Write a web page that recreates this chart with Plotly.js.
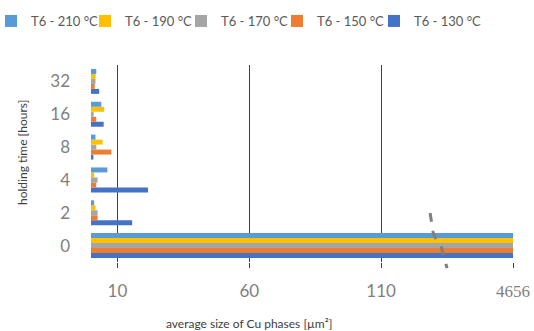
<!DOCTYPE html>
<html>
<head>
<meta charset="utf-8">
<script src="https://cdn.plot.ly/plotly-3.0.1.min.js"></script>
<style>html,body{margin:0;padding:0;background:#fff;}#chart{width:534px;height:331px;}</style>
</head>
<body>
<div id="chart"></div>
<script>
// holding time categories (hours), bottom to top
const holdingTimes = ['0', '2', '4', '8', '16', '32'];
// average size of Cu phases [µm²]
const t6_130 = [4656, 15.6, 21.6, 0.9, 4.8, 3.1];
const t6_150 = [4656, 2.5, 2.0, 7.7, 2.0, 1.4];
const t6_170 = [4656, 2.5, 2.5, 2.0, 1.0, 1.7];
const t6_190 = [4656, 1.7, 1.2, 4.4, 5.0, 1.7];
const t6_210 = [4656, 1.2, 6.2, 1.7, 3.9, 2.0];
const seriesNames = ['T6 - 130 °C', 'T6 - 150 °C', 'T6 - 170 °C', 'T6 - 190 °C', 'T6 - 210 °C'];
const seriesColors = ['#4472C4', '#ED7D31', '#A5A5A5', '#FFC000', '#5B9BD5'];
// broken x axis: visible range ends at 160, shown as 4656
const xTickVals = [10, 60, 110, 160];
const xTickText = ['10', '60', '110', '<span style="font-family:\'Liberation Serif\',serif">4656</span>'];

const seriesValues = [t6_130, t6_150, t6_170, t6_190, t6_210];
const legendIds = ['legend5', 'legend4', 'legend3', 'legend2', 'legend'];
const traces = seriesValues.map((vals, i) => ({
  type: 'bar',
  orientation: 'h',
  name: seriesNames[i],
  y: holdingTimes,
  x: vals,
  marker: {color: seriesColors[i]},
  legend: legendIds[i],
  hoverinfo: 'skip'
}));

const plotL = 91, plotW = 422, plotB = 262, plotH = 197;
function legendAt(px) {
  return {
    orientation: 'h',
    x: (px - plotL) / plotW, xref: 'paper', xanchor: 'left',
    y: (plotB - 21) / plotH, yref: 'paper', yanchor: 'middle',
    font: {size: 13, color: '#595959'},
    itemwidth: 30, bgcolor: 'rgba(0,0,0,0)', borderwidth: 0
  };
}

const layout = {
  width: 534, height: 331,
  margin: {l: plotL, r: 21, t: 65, b: 69, autoexpand: false},
  paper_bgcolor: '#fff', plot_bgcolor: '#fff',
  font: {family: 'Lato, "Open Sans", sans-serif', color: '#595959'},
  barmode: 'group',
  bargap: 0.24,
  bargroupgap: 0,
  showlegend: true,
  legend: legendAt(-9),
  legend2: legendAt(85),
  legend3: legendAt(181),
  legend4: legendAt(277),
  legend5: legendAt(374),
  xaxis: {
    range: [0, 160],
    tickvals: xTickVals, ticktext: xTickText,
    showgrid: true, gridcolor: '#404040', gridwidth: 1,
    zeroline: false, showline: false,
    ticks: 'outside', ticklen: 5, tickcolor: '#404040',
    tickfont: {size: 17, color: '#7F7F7F'},
    ticklabelstandoff: 9,
    fixedrange: true
  },
  yaxis: {
    type: 'category',
    categoryorder: 'array', categoryarray: holdingTimes,
    showgrid: false, zeroline: false, showline: false,
    ticks: '',
    tickfont: {size: 17, color: '#7F7F7F'},
    ticklabelstandoff: 20,
    fixedrange: true
  },
  annotations: [
    {text: 'average size of Cu phases [µm²]', xref: 'paper', yref: 'paper',
     x: (249 - plotL) / plotW, y: -0.31, xanchor: 'center', yanchor: 'middle',
     showarrow: false, font: {size: 12, color: '#404040'}},
    {text: 'holding time [hours]', xref: 'paper', yref: 'paper',
     x: (22 - plotL) / plotW, y: (plotB - 153) / plotH, xanchor: 'center', yanchor: 'middle',
     textangle: -90, showarrow: false, font: {size: 12, color: '#404040'}}
  ],
  shapes: [
    {type: 'path', xref: 'paper', yref: 'paper',
     path: 'M 0.8035 0.249 L 0.8106 0.152 Q 0.8158 0.112 0.8295 0.081 L 0.8437 -0.031',
     line: {color: '#7F7F7F', width: 3, dash: 'dash'}}
  ]
};

Plotly.newPlot('chart', traces, layout, {staticPlot: true, displayModeBar: false});
</script>
</body>
</html>
